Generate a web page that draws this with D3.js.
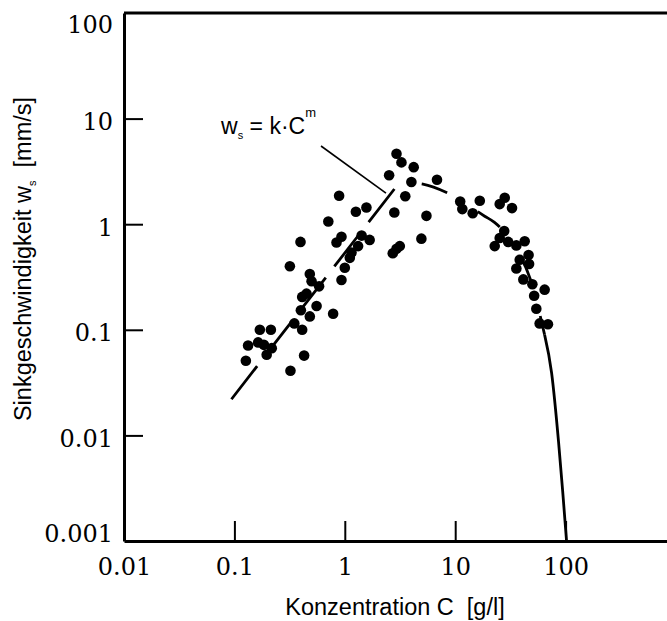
<!DOCTYPE html>
<html>
<head>
<meta charset="utf-8">
<script src="https://cdn.jsdelivr.net/npm/d3@7"></script>
<style>
  body { margin: 0; background: #fff; }
  svg { display: block; }
</style>
</head>
<body>
<div id="chart"></div>
<script>
// tick values of both log axes
var tickC = [0.01, 0.1, 1, 10, 100];
var tickW = [0.001, 0.01, 0.1, 1, 10, 100];

// measured points: concentration C [g/l] and settling velocity ws [mm/s]
var sampleC = [0.127, 0.133, 0.17, 0.214, 0.164, 0.185, 0.218, 0.196, 0.322, 0.349,
  0.411, 0.428, 0.40, 0.482, 0.411, 0.45, 0.555, 0.784, 0.482, 0.50,
  0.585, 0.318, 0.397, 0.709, 0.888, 0.933, 0.841, 1.0, 0.933, 1.42,
  1.68, 1.32, 1.15, 1.11, 1.26, 1.57, 2.94, 3.26, 4.21, 2.52,
  4.01, 6.84, 3.53, 2.81, 5.49, 4.94, 2.94, 2.72, 3.15, 11.1,
  11.6, 16.7, 14.4, 28.1, 25.3, 32.7, 27.8, 25.3, 22.8, 30.2,
  35.8, 42.6, 46.2, 38.4, 46.7, 35.8, 41.4, 50.0, 64.6, 51.9,
  54.3, 58.2, 69.2];
var sampleW = [0.051, 0.071, 0.10, 0.10, 0.076, 0.072, 0.067, 0.058, 0.041, 0.115,
  0.10, 0.057, 0.153, 0.134, 0.205, 0.22, 0.168, 0.142, 0.338, 0.288,
  0.258, 0.40, 0.68, 1.06, 1.86, 0.76, 0.67, 0.387, 0.296, 0.78,
  0.71, 0.62, 0.54, 0.48, 1.31, 1.44, 4.64, 3.85, 3.47, 2.91,
  2.51, 2.64, 1.84, 1.29, 1.20, 0.73, 0.585, 0.53, 0.62, 1.64,
  1.39, 1.67, 1.27, 1.78, 1.55, 1.42, 0.86, 0.74, 0.62, 0.68,
  0.63, 0.69, 0.51, 0.46, 0.42, 0.38, 0.30, 0.27, 0.24, 0.21,
  0.158, 0.115, 0.113];

// fitted curve: straight rise (ws = k*C^m),
// dashed bend down, then solid drop to the axis
var riseC = [0.094, 3.15];
var riseW = [0.022, 2.51];
var bendC = [3.15, 5.1, 8.6, 18.5, 22.7, 35, 48, 64.5];
var bendW = [2.51, 2.4, 1.97, 1.19, 1.04, 0.6, 0.3, 0.09];
var dropC = [64.5, 74.7, 86.4, 94, 102];
var dropW = [0.09, 0.039, 0.0086, 0.003, 0.001];

var width = 667, height = 621;
var plotLeft = 124, plotTop = 13, plotBottom = 541, decadeX = 110.4;

var svg = d3.select("#chart")
  .append("svg")
    .attr("width", width)
    .attr("height", height);

var x = d3.scaleLog()
  .domain([0.01, 1000])
  .range([plotLeft, plotLeft + 5 * decadeX]);

var y = d3.scaleLog()
  .domain([0.001, 100])
  .range([plotBottom, plotTop]);

// x axis, ticks pointing up into the plot
var xAxis = svg.append("g")
  .attr("transform", "translate(0," + plotBottom + ")")
  .call(d3.axisBottom(x)
    .tickValues(tickC)
    .tickFormat(function(d) { return String(d); })
    .tickSizeInner(-20)
    .tickSizeOuter(0)
    .tickPadding(17));

// y axis, ticks pointing right
var yAxis = svg.append("g")
  .attr("transform", "translate(" + plotLeft + ",0)")
  .call(d3.axisLeft(y)
    .tickValues(tickW)
    .tickFormat(function(d) { return String(d); })
    .tickSizeInner(-19)
    .tickSizeOuter(0)
    .tickPadding(11));

[xAxis, yAxis].forEach(function(g) {
  g.select(".domain").attr("stroke", "#000").attr("stroke-width", 3);
  g.selectAll(".tick line").attr("stroke", "#000").attr("stroke-width", 2);
  g.selectAll(".tick text")
    .attr("fill", "#000")
    .style("font-family", "'DejaVu Serif', 'Liberation Serif', serif")
    .style("font-size", "24px");
});

// end ticks coincide with the frame
xAxis.selectAll(".tick").filter(function(d) { return d === 0.01; }).select("line").remove();
yAxis.selectAll(".tick").filter(function(d) { return d === 0.001 || d === 100; }).select("line").remove();

yAxis.selectAll(".tick text")
  .attr("dy", function(d) {
    if (d === 100) return "19px";
    if (d === 0.001) return "0px";
    return "11px";
  });

// top frame line
svg.append("line")
  .attr("x1", plotLeft).attr("x2", width)
  .attr("y1", plotTop).attr("y2", plotTop)
  .attr("stroke", "#000")
  .attr("stroke-width", 3);

// fitted curve
var straight = d3.line()
  .x(function(d) { return x(d[0]); })
  .y(function(d) { return y(d[1]); });

var smooth = d3.line()
  .x(function(d) { return x(d[0]); })
  .y(function(d) { return y(d[1]); })
  .curve(d3.curveMonotoneX);

svg.append("path")
  .datum(d3.zip(riseC, riseW))
  .attr("d", straight)
  .attr("fill", "none")
  .attr("stroke", "#000")
  .attr("stroke-width", 2.8)
  .attr("stroke-dasharray", "42,14");

svg.append("path")
  .datum(d3.zip(bendC, bendW))
  .attr("d", smooth)
  .attr("fill", "none")
  .attr("stroke", "#000")
  .attr("stroke-width", 2.8)
  .attr("stroke-dasharray", "0,22,27,14");

svg.append("path")
  .datum(d3.zip(dropC, dropW))
  .attr("d", smooth)
  .attr("fill", "none")
  .attr("stroke", "#000")
  .attr("stroke-width", 2.8);

// dots
svg.append("g")
  .selectAll("circle")
  .data(d3.zip(sampleC, sampleW))
  .enter()
  .append("circle")
    .attr("cx", function(d) { return x(d[0]); })
    .attr("cy", function(d) { return y(d[1]); })
    .attr("r", 5.3)
    .attr("fill", "#000");

// annotation with leader line
svg.append("line")
  .attr("x1", x(0.609)).attr("y1", y(5.5))
  .attr("x2", x(2.36)).attr("y2", y(1.97))
  .attr("stroke", "#000")
  .attr("stroke-width", 1.6);

var note = svg.append("text")
  .attr("x", x(0.0757))
  .attr("y", y(7.15))
  .style("font-family", "'Liberation Sans', Arial, sans-serif")
  .style("font-size", "23px")
  .attr("fill", "#000");
note.append("tspan").text("w");
note.append("tspan").attr("dy", 5).style("font-size", "11px").text("s");
note.append("tspan").attr("dy", -5).text(" = k\u00b7C");
note.append("tspan").attr("dy", -17).style("font-size", "13px").text("m");

// axis titles
svg.append("text")
  .attr("x", 395)
  .attr("y", 615)
  .attr("text-anchor", "middle")
  .style("font-family", "'Liberation Sans', Arial, sans-serif")
  .style("font-size", "23.5px")
  .attr("fill", "#000")
  .text("Konzentration C\u00a0 [g/l]");

var ytitle = svg.append("text")
  .attr("transform", "translate(31,259) rotate(-90)")
  .attr("text-anchor", "middle")
  .style("font-family", "'Liberation Sans', Arial, sans-serif")
  .style("font-size", "23.5px")
  .attr("fill", "#000");
ytitle.append("tspan").text("Sinkgeschwindigkeit w");
ytitle.append("tspan").attr("dy", 5).style("font-size", "11px").text("s");
ytitle.append("tspan").attr("dy", -5).text("\u00a0 [mm/s]");
</script>
</body>
</html>
